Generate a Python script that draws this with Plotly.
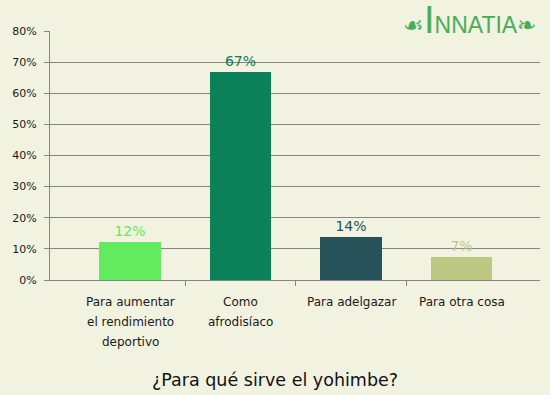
import plotly.graph_objects as go

categories = [["Para aumentar", "el rendimiento", "deportivo"],
              ["Como", "afrodisíaco"],
              ["Para adelgazar"],
              ["Para otra cosa"]]
values = [12.2, 66.7, 13.8, 7.3]
value_labels = ["12%", "67%", "14%", "7%"]
colors = ["#62EB5E", "#0A8159", "#28525A", "#BCC882"]
y_ticks = [0, 10, 20, 30, 40, 50, 60, 70, 80]
y_tick_labels = ["0%", "10%", "20%", "30%", "40%", "50%", "60%", "70%", "80%"]
title = "¿Para qué sirve el yohimbe?"

BG = "#F2F2E1"
GRID = "#868686"
FONT = "DejaVu Sans"

xs = list(range(len(values)))
fig = go.Figure()
fig.add_bar(x=xs, y=values, width=0.56, marker=dict(color=colors, line=dict(width=0)),
            text=value_labels, textposition="outside", cliponaxis=False,
            textfont=dict(color=colors, size=14, family=FONT, weight="normal"), hoverinfo="skip")

annotations = []
for i, lines in enumerate(categories):
    for k, line in enumerate(lines):
        annotations.append(dict(x=i, y=0, xref="x", yref="paper", text=line, showarrow=False,
                                yanchor="middle", xanchor="center", yshift=-(22 + 20 * k),
                                font=dict(family=FONT, size=12, color="#1a1a1a")))
annotations.append(dict(x=0.459, y=-0.40, xref="paper", yref="paper", text=title,
                        showarrow=False, yanchor="middle", xanchor="center",
                        font=dict(family=FONT, size=17.5, color="#111111")))
annotations.append(dict(x=0.857, y=1.044, xref="paper", yref="paper",
                        text="☙<span style='font-size:38px'>I</span>NNATIA❧",
                        showarrow=False, yanchor="middle", xanchor="center",
                        font=dict(family="Liberation Sans", size=23, color="#48AD55")))

fig.update_layout(
    width=550, height=395, paper_bgcolor=BG, plot_bgcolor=BG,
    margin=dict(l=50, r=10, t=31, b=115),
    showlegend=False, bargap=0,
    annotations=annotations,
    xaxis=dict(range=[-0.724, 3.71], tickvals=[0.5, 1.5, 2.5], showticklabels=False,
               ticks="outside", ticklen=5, tickcolor=GRID, showline=True, linecolor=GRID,
               linewidth=1, showgrid=False, zeroline=False, fixedrange=True),
    yaxis=dict(range=[0, 80], tickvals=y_ticks, ticktext=y_tick_labels, ticks="outside", ticklen=5,
               tickcolor=GRID, showline=True, linecolor=GRID, linewidth=1,
               gridcolor=GRID, gridwidth=1, zeroline=False, ticklabelstandoff=5,
               tickfont=dict(family=FONT, size=11, color="#1a1a1a"), fixedrange=True),
)
fig.write_html("out.html", config={"displayModeBar": False},
               post_script="document.body.style.margin='0';document.body.style.background='%s';" % BG)
